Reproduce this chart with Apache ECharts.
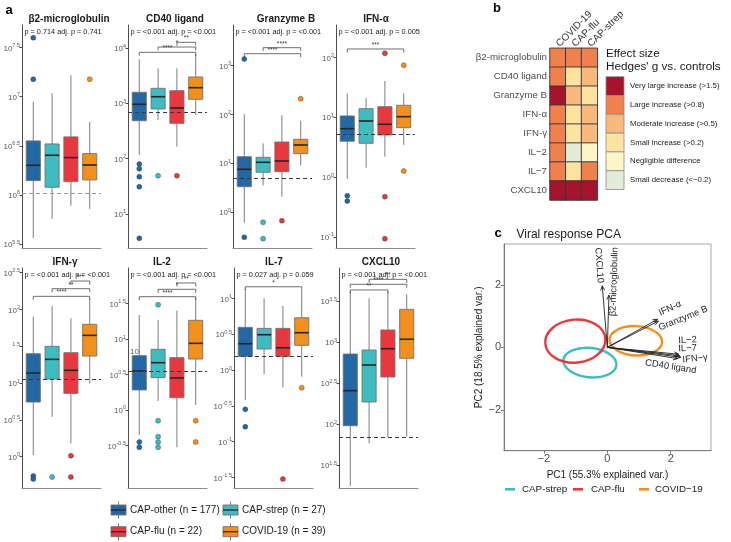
<!DOCTYPE html>
<html>
<head>
<meta charset="utf-8">
<script src="https://cdn.jsdelivr.net/npm/echarts@6.0.0/dist/echarts.min.js"></script>
<style>html,body{margin:0;padding:0;background:#fff;}#chart{width:731px;height:542px;}</style>
</head>
<body>
<div id="chart"></div>
<script>
const FONT = '"Liberation Sans", Arial, Helvetica, sans-serif';

// ---------- Groups ----------
const groups = ['CAP-other', 'CAP-strep', 'CAP-flu', 'COVID-19'];
const groupN = [177, 27, 22, 39];
const groupColors = ['#2467a5', '#3ebdc1', '#e8383e', '#f3901b'];

// ---------- Panel a (values are log10): [lower whisker, Q1, median, Q3, upper whisker] per group ----------
const b2mBoxes = [[5.56, 6.146, 6.302, 6.55, 6.95], [5.756, 6.078, 6.404, 6.519, 7.036], [5.891, 6.135, 6.38, 6.591, 7.22], [5.857, 6.153, 6.305, 6.421, 6.746]];
const b2mOutliers = [[0, 7.60], [0, 7.178], [3, 7.178]];
const b2mControl = 6.023;
const b2mTicks = [5.5, 6, 6.5, 7, 7.5];
const b2mBrackets = [];

const cd40Boxes = [[2.065, 2.685, 2.982, 3.199, 3.796], [2.698, 2.897, 3.119, 3.271, 3.633], [2.215, 2.638, 2.915, 3.228, 3.633], [2.788, 3.072, 3.282, 3.476, 3.892]];
const cd40Outliers = [[0, 1.902], [0, 1.817], [0, 1.673], [0, 1.492], [0, 0.559], [1, 1.691], [2, 1.691]];
const cd40Control = 2.837;
const cd40Ticks = [1, 2, 3, 4];
const cd40Brackets = [[0, 3, 3.922, '****'], [1, 3, 4.018, '*'], [2, 3, 4.103, '**']];

const gzmbBoxes = [[-0.217, 0.52, 0.877, 1.135, 2.004], [0.549, 0.816, 1.02, 1.123, 1.41], [0.316, 0.828, 1.047, 1.436, 1.984], [0.951, 1.197, 1.375, 1.492, 1.873]];
const gzmbOutliers = [[0, 3.137], [0, -0.516], [1, -0.209], [1, -0.545], [2, -0.176], [3, 2.324]];
const gzmbControl = 0.693;
const gzmbTicks = [0, 1, 2, 3];
const gzmbBrackets = [[0, 3, 3.246, '****'], [1, 3, 3.369, '****']];

const ifnaBoxes = [[-0.032, 0.599, 0.809, 1.022, 1.401], [0.157, 0.565, 0.938, 1.144, 1.318], [0.341, 0.704, 0.883, 1.177, 1.607], [0.537, 0.826, 1.01, 1.201, 1.401]];
const ifnaOutliers = [[0, -0.311], [0, -0.40], [2, 2.07], [2, -0.328], [2, -1.03], [3, 1.87], [3, 0.102]];
const ifnaControl = 0.716;
const ifnaTicks = [-1, 0, 1, 2];
const ifnaBrackets = [[0, 3, 2.142, '***']];

const ifngBoxes = [[0.023, 0.743, 1.137, 1.399, 1.902], [0.543, 1.056, 1.323, 1.5, 2.048], [0.182, 0.861, 1.174, 1.413, 1.88], [0.997, 1.368, 1.649, 1.799, 2.152]];
const ifngOutliers = [[0, -0.262], [0, -0.303], [1, -0.276], [2, 0.014], [2, -0.276]];
const ifngControl = 1.052;
const ifngTicks = [0, 0.5, 1, 1.5, 2, 2.5];
const ifngBrackets = [[0, 3, 2.179, '****'], [1, 3, 2.283, '**'], [2, 3, 2.387, '***']];

const il2Boxes = [[-0.352, 0.282, 0.549, 0.765, 1.338], [0.127, 0.455, 0.666, 0.855, 1.268], [-0.525, 0.173, 0.451, 0.737, 1.399], [0.07, 0.718, 0.939, 1.263, 1.582]];
const il2Outliers = [[0, -0.451], [0, -0.525], [1, 1.483], [1, -0.151], [1, -0.376], [1, -0.451], [1, -0.525], [3, -0.151], [3, -0.451]];
const il2Control = 0.549;
const il2Ticks = [-0.5, 0, 0.5, 1, 1.5];
const il2Brackets = [[0, 3, 1.596, '****'], [1, 3, 1.70, '*'], [2, 3, 1.789, '**']];

const il7Boxes = [[-0.419, 0.191, 0.367, 0.596, 1.135], [-0.06, 0.293, 0.493, 0.582, 1.001], [-0.242, 0.191, 0.311, 0.582, 0.894], [-0.094, 0.345, 0.521, 0.73, 1.113]];
const il7Outliers = [[0, -0.549], [0, -0.792], [2, -1.522], [3, -0.247]];
const il7Control = 0.191;
const il7Ticks = [-1.5, -1, -0.5, 0, 0.5, 1];
const il7Brackets = [[0, 3, 1.163, '*']];

const cxcl10Boxes = [[1.25, 1.983, 2.41, 2.857, 3.62], [1.768, 2.272, 2.723, 2.906, 3.537], [1.841, 2.577, 2.922, 3.15, 3.617], [1.849, 2.805, 3.037, 3.402, 3.585]];
const cxcl10Outliers = [];
const cxcl10Control = 1.841;
const cxcl10Ticks = [1.5, 2, 2.5, 3, 3.5];
const cxcl10Brackets = [[0, 2, 3.638, '**'], [0, 3, 3.707, '****'], [1, 3, 3.768, '**']];

// ---------- Panel b: effect size levels (0 small decrease ... 5 very large increase) ----------
const hmRows = ['β2-microglobulin', 'CD40 ligand', 'Granzyme B', 'IFN-α', 'IFN-γ', 'IL−2', 'IL−7', 'CXCL10'];
const hmCols = ['COVID-19', 'CAP-flu', 'CAP-strep'];
const hmCovid = [4, 4, 5, 4, 4, 4, 4, 5];
const hmFlu = [4, 2, 3, 2, 2, 0, 2, 5];
const hmStrep = [4, 3, 2, 3, 3, 1, 4, 5];
const effectLabels = ['Small decrease (<−0.2)', 'Negligible difference', 'Small increase (>0.2)', 'Moderate increase (>0.5)', 'Large increase (>0.8)', 'Very large increase (>1.5)'];
const effectColors = ['#e2ecd8', '#fbf5c8', '#fde3a0', '#f9b97a', '#f0814f', '#a5142d'];

// ---------- Panel c: PCA ----------
const pcaVars = ['CXCL10', 'β2-microglobulin', 'IFN-α', 'Granzyme B', 'IL−2', 'IL−7', 'IFN−γ', 'CD40 ligand'];
const pcaLoadX = [-0.16, 0.05, 1.58, 1.61, 2.25, 2.28, 2.32, 2.22];
const pcaLoadY = [1.97, 1.67, 0.90, 0.84, -0.22, -0.27, -0.32, -0.36];
const pcaLabelX = [-0.26, 0.21, 1.98, 2.39, 2.53, 2.53, 2.77, 2.0];
const pcaLabelY = [2.63, 2.10, 1.25, 0.93, 0.23, -0.03, -0.36, -0.62];
const pcaLabelRot = [-86, 88, 25, 22, 3, 3, 6, -9];
const pcaGroups = ['CAP-strep', 'CAP-flu', 'COVID−19'];
const pcaColors = ['#3ebdc1', '#e8383e', '#f3901b'];
const ellCx = [-0.55, -1.01, 0.90];
const ellCy = [-0.49, 0.20, 0.21];
const ellRx = [0.84, 0.95, 0.83];
const ellRy = [0.47, 0.69, 0.47];
const ellTilt = [-6, 5, -3];

// ---------- layout ----------
const panels = [
  {title: 'β2-microglobulin', p: 'p = 0.714 adj. p = 0.741', boxes: b2mBoxes, out: b2mOutliers, ctrl: b2mControl, ticks: b2mTicks, br: b2mBrackets, range: [5.46, 7.73], left: 22, top: 25, h: 223, tx: 69, ctrlColor: '#9a9a9a'},
  {title: 'CD40 ligand', p: 'p = <0.001 adj. p = <0.001', boxes: cd40Boxes, out: cd40Outliers, ctrl: cd40Control, ticks: cd40Ticks, br: cd40Brackets, range: [0.383, 4.416], left: 128, top: 25, h: 223, tx: 175},
  {title: 'Granzyme B', p: 'p = <0.001 adj. p = <0.001', boxes: gzmbBoxes, out: gzmbOutliers, ctrl: gzmbControl, ticks: gzmbTicks, br: gzmbBrackets, range: [-0.736, 3.834], left: 233, top: 25, h: 223, tx: 286},
  {title: 'IFN-α', p: 'p = <0.001 adj. p = 0.005', boxes: ifnaBoxes, out: ifnaOutliers, ctrl: ifnaControl, ticks: ifnaTicks, br: ifnaBrackets, range: [-1.186, 2.543], left: 336, top: 25, h: 223, tx: 376},
  {title: 'IFN-γ', p: 'p = <0.001 adj. p = <0.001', boxes: ifngBoxes, out: ifngOutliers, ctrl: ifngControl, ticks: ifngTicks, br: ifngBrackets, range: [-0.425, 2.564], left: 22, top: 268, h: 220, tx: 65, supOnly: [1.5]},
  {title: 'IL-2', p: 'p = <0.001 adj. p = <0.001', boxes: il2Boxes, out: il2Outliers, ctrl: il2Control, ticks: il2Ticks, br: il2Brackets, range: [-1.099, 2.0], left: 128, top: 268, h: 220, tx: 162},
  {title: 'IL-7', p: 'p = 0.027 adj. p = 0.059', boxes: il7Boxes, out: il7Outliers, ctrl: il7Control, ticks: il7Ticks, br: il7Brackets, range: [-1.648, 1.425], left: 234, top: 268, h: 220, tx: 274},
  {title: 'CXCL10', p: 'p = <0.001 adj. p = <0.001', boxes: cxcl10Boxes, out: cxcl10Outliers, ctrl: cxcl10Control, ticks: cxcl10Ticks, br: cxcl10Brackets, range: [1.223, 3.906], left: 339, top: 268, h: 220, tx: 381}
];

function expStr(v) { return String(Math.round(v * 10) / 10); }

function boxRender(params, api) {
  const x = api.value(0);
  const p = [1, 2, 3, 4, 5].map(k => api.coord([x, api.value(k)]));
  const g = api.value(6);
  const w = api.size([0.75, 0])[0];
  const cx = p[0][0];
  return {type: 'group', children: [
    {type: 'line', shape: {x1: cx, y1: p[0][1], x2: cx, y2: p[1][1]}, style: {stroke: '#6f6f6f', lineWidth: 0.9}},
    {type: 'line', shape: {x1: cx, y1: p[3][1], x2: cx, y2: p[4][1]}, style: {stroke: '#6f6f6f', lineWidth: 0.9}},
    {type: 'rect', shape: {x: cx - w / 2, y: p[3][1], width: w, height: p[1][1] - p[3][1]}, style: {fill: groupColors[g], stroke: '#707070', lineWidth: 0.9}},
    {type: 'line', shape: {x1: cx - w / 2, y1: p[2][1], x2: cx + w / 2, y2: p[2][1]}, style: {stroke: '#262626', lineWidth: 1.6}}
  ]};
}

function bracketRender(list) {
  return function (params, api) {
    const yv = api.value(2);
    const a = api.coord([api.value(0) + 1, yv]);
    const b = api.coord([api.value(1) + 1, yv]);
    return {type: 'group', children: [
      {type: 'polyline', shape: {points: [[a[0], a[1] + 3.5], [a[0], a[1]], [b[0], b[1]], [b[0], b[1] + 3.5]]}, style: {stroke: '#4a4a4a', lineWidth: 0.8, fill: null}},
      {type: 'text', x: (a[0] + b[0]) / 2, y: a[1] - 0.3, style: {text: list[params.dataIndex][3], fontSize: 6.5, fontFamily: FONT, fill: '#333', align: 'center', verticalAlign: 'bottom'}}
    ]};
  };
}

const grids = [], xAxes = [], yAxes = [], series = [], graphics = [];
const richTick = {
  b: {fontSize: 8, fontFamily: FONT, color: '#5a5a5a', lineHeight: 10, verticalAlign: 'bottom'},
  s: {fontSize: 5.5, fontFamily: FONT, color: '#5a5a5a', lineHeight: 10, verticalAlign: 'top'}
};

panels.forEach((pn, i) => {
  grids.push({left: pn.left, top: pn.top, width: 79, height: pn.h, outerBoundsMode: 'none'});
  xAxes.push({type: 'value', gridIndex: i, min: 0.4, max: 4.6,
    axisLine: {show: true, onZero: false, lineStyle: {color: '#8c8c8c', width: 1}},
    axisTick: {show: false}, axisLabel: {show: false}, splitLine: {show: false}});
  yAxes.push({type: 'value', gridIndex: i, min: pn.range[0], max: pn.range[1],
    axisLine: {show: true, onZero: false, lineStyle: {color: '#4d4d4d', width: 1}},
    axisTick: {show: true, length: 2.5, customValues: pn.ticks, lineStyle: {color: '#4d4d4d'}},
    axisLabel: {customValues: pn.ticks, margin: 2, rich: richTick,
      formatter: v => (pn.supOnly && pn.supOnly.indexOf(v) >= 0) ? '{s|' + expStr(v) + '}' : '{b|10}{s|' + expStr(v) + '}'},
    splitLine: {show: false}});
  series.push({type: 'custom', xAxisIndex: i, yAxisIndex: i, renderItem: boxRender, z: 2,
    encode: {x: 0, y: [1, 2, 3, 4, 5]},
    data: pn.boxes.map((b, g) => [g + 1, b[0], b[1], b[2], b[3], b[4], g])});
  series.push({type: 'scatter', xAxisIndex: i, yAxisIndex: i, z: 3, symbolSize: 5,
    data: pn.out.map(o => [o[0] + 1, o[1], o[0]]),
    itemStyle: {color: p => groupColors[p.data[2]], borderColor: '#333', borderWidth: 0.4, opacity: 1},
    markLine: {silent: true, symbol: 'none', z: 4, label: {show: false},
      lineStyle: {type: [4, 3], color: pn.ctrlColor || '#3a3a3a', width: 1},
      data: [{yAxis: pn.ctrl}]}});
  if (pn.br.length) {
    series.push({type: 'custom', xAxisIndex: i, yAxisIndex: i, z: 5, renderItem: bracketRender(pn.br),
      encode: {x: [0, 1], y: 2}, data: pn.br.map(b => [b[0], b[1], b[2]])});
  }
  graphics.push({type: 'text', x: pn.tx, y: pn.top - 6, style: {text: pn.title, fontSize: 10, fontWeight: 'bold', fontFamily: FONT, fill: '#1a1a1a', align: 'center', verticalAlign: 'middle'}});
  graphics.push({type: 'text', x: pn.left + 2.5, y: pn.top + 7, style: {text: pn.p, fontSize: 7.3, fontFamily: FONT, fill: '#1a1a1a', align: 'left', verticalAlign: 'middle'}});
});

// stray label in IL-2 panel
graphics.push({type: 'text', x: 130, y: 352, style: {text: '10', fontSize: 8, fontFamily: FONT, fill: '#5a5a5a', align: 'left', verticalAlign: 'middle'}});

// ---------- heatmap (panel b) ----------
const hmIdx = grids.length;
grids.push({left: 550, top: 48.3, width: 47.3, height: 151.7, outerBoundsMode: 'none'});
xAxes.push({type: 'category', gridIndex: hmIdx, position: 'top', data: hmCols,
  axisLine: {show: false}, axisTick: {show: false}, splitLine: {show: false},
  axisLabel: {rotate: -45, interval: 0, hideOverlap: false, align: 'left', verticalAlign: 'middle', margin: 3, fontSize: 10, fontFamily: FONT, color: '#333'}});
yAxes.push({type: 'category', gridIndex: hmIdx, data: hmRows, inverse: true,
  axisLine: {show: false}, axisTick: {show: false}, splitLine: {show: false},
  axisLabel: {margin: 3, interval: 0, fontSize: 9.7, fontFamily: FONT, color: '#4d4d4d'}});
const hmData = [];
[hmCovid, hmFlu, hmStrep].forEach((col, c) => col.forEach((v, r) => hmData.push([c, r, v])));
const hmSeriesIndex = series.length;
series.push({type: 'heatmap', xAxisIndex: hmIdx, yAxisIndex: hmIdx, data: hmData,
  itemStyle: {borderColor: '#333', borderWidth: 0.9}, emphasis: {disabled: true}});

// effect size legend
graphics.push({type: 'text', x: 606, y: 53.5, style: {text: 'Effect size', fontSize: 11.7, fontFamily: FONT, fill: '#1a1a1a', align: 'left', verticalAlign: 'middle'}});
graphics.push({type: 'text', x: 606, y: 66.8, style: {text: "Hedges' g vs. controls", fontSize: 11.7, fontFamily: FONT, fill: '#1a1a1a', align: 'left', verticalAlign: 'middle'}});
for (let k = 0; k < effectLabels.length; k++) {
  const lvl = effectLabels.length - 1 - k;
  const y0 = 76.7 + k * 18.8;
  graphics.push({type: 'rect', shape: {x: 606, y: y0, width: 18, height: 18.8}, style: {fill: effectColors[lvl], stroke: '#8a8a8a', lineWidth: 0.8}});
  graphics.push({type: 'text', x: 630, y: y0 + 9.4, style: {text: effectLabels[lvl], fontSize: 7.8, fontFamily: FONT, fill: '#1a1a1a', align: 'left', verticalAlign: 'middle'}});
}

// ---------- PCA (panel c) ----------
const pcIdx = grids.length;
grids.push({left: 504, top: 244, width: 207, height: 206.7, show: true, borderColor: '#a6a6a6', borderWidth: 1, backgroundColor: 'transparent', outerBoundsMode: 'none'});
xAxes.push({type: 'value', gridIndex: pcIdx, min: -3.26, max: 3.27,
  axisLine: {show: true, onZero: false, lineStyle: {color: '#7a7a7a'}},
  axisTick: {show: true, length: 3, customValues: [-2, 0, 2], lineStyle: {color: '#7a7a7a'}},
  axisLabel: {customValues: [-2, 0, 2], margin: 3, fontSize: 11, fontFamily: FONT, color: '#4d4d4d', formatter: v => String(v).replace('-', '−')},
  splitLine: {show: false},
  name: 'PC1 (55.3% explained var.)', nameLocation: 'middle', nameGap: 20,
  nameTextStyle: {fontSize: 10, fontFamily: FONT, color: '#1a1a1a'}});
yAxes.push({type: 'value', gridIndex: pcIdx, min: -3.31, max: 3.31,
  axisLine: {show: true, onZero: false, lineStyle: {color: '#7a7a7a'}},
  axisTick: {show: true, length: 3, customValues: [-2, 0, 2], lineStyle: {color: '#7a7a7a'}},
  axisLabel: {customValues: [-2, 0, 2], margin: 3, fontSize: 11, fontFamily: FONT, color: '#4d4d4d', formatter: v => String(v).replace('-', '−')},
  splitLine: {show: false},
  name: 'PC2 (18.5% explained var.)', nameLocation: 'middle', nameGap: 19, nameRotate: 90,
  nameTextStyle: {fontSize: 10, fontFamily: FONT, color: '#1a1a1a'}});

series.push({type: 'custom', xAxisIndex: pcIdx, yAxisIndex: pcIdx, z: 2,
  encode: {x: 0, y: 1},
  data: ellCx.map((cx, k) => [cx, ellCy[k], ellRx[k], ellRy[k], ellTilt[k], k]),
  renderItem: (params, api) => {
    const c = api.coord([api.value(0), api.value(1)]);
    const rx = api.size([api.value(2), 0])[0];
    const ry = api.size([0, api.value(3)])[1];
    return {type: 'ellipse', x: c[0], y: c[1], rotation: api.value(4) * Math.PI / 180,
      shape: {cx: 0, cy: 0, rx: rx, ry: ry},
      style: {fill: 'none', stroke: pcaColors[api.value(5)], lineWidth: 2.4}};
  }});

series.push({type: 'custom', xAxisIndex: pcIdx, yAxisIndex: pcIdx, z: 3,
  encode: {x: 0, y: 1},
  data: pcaLoadX.map((x, k) => [x, pcaLoadY[k], pcaLabelX[k], pcaLabelY[k], pcaLabelRot[k]]),
  renderItem: (params, api) => {
    const o = api.coord([0, 0]);
    const t = api.coord([api.value(0), api.value(1)]);
    const ang = Math.atan2(t[1] - o[1], t[0] - o[0]);
    const L = 5, A = 0.42;
    const h1 = [t[0] - L * Math.cos(ang - A), t[1] - L * Math.sin(ang - A)];
    const h2 = [t[0] - L * Math.cos(ang + A), t[1] - L * Math.sin(ang + A)];
    const lp = api.coord([api.value(2), api.value(3)]);
    return {type: 'group', children: [
      {type: 'line', shape: {x1: o[0], y1: o[1], x2: t[0], y2: t[1]}, style: {stroke: '#1f1f1f', lineWidth: 0.9}},
      {type: 'polyline', shape: {points: [h1, t, h2]}, style: {stroke: '#1f1f1f', lineWidth: 0.9, fill: null}},
      {type: 'text', x: lp[0], y: lp[1], rotation: api.value(4) * Math.PI / 180,
        style: {text: pcaVars[params.dataIndex], fontSize: 9.4, fontFamily: FONT, fill: '#1f1f1f', align: 'center', verticalAlign: 'middle'}}
    ]};
  }});

graphics.push({type: 'text', x: 516.5, y: 235, style: {text: 'Viral response PCA', fontSize: 12, fontFamily: FONT, fill: '#1a1a1a', align: 'left', verticalAlign: 'middle'}});

// PCA legend
const pcaKeyX = [505, 573, 639];
const pcaTextX = [522, 591, 655];
pcaGroups.forEach((g, k) => {
  graphics.push({type: 'line', shape: {x1: pcaKeyX[k], y1: 489.3, x2: pcaKeyX[k] + 10, y2: 489.3}, style: {stroke: pcaColors[k], lineWidth: 2.6}});
  graphics.push({type: 'text', x: pcaTextX[k], y: 489.3, style: {text: g, fontSize: 9.8, fontFamily: FONT, fill: '#1a1a1a', align: 'left', verticalAlign: 'middle'}});
});

// boxplot legend
const legOrder = [0, 1, 2, 3];
legOrder.forEach((g, k) => {
  const col = k % 2, row = Math.floor(k / 2);
  const kx = col === 0 ? 111 : 223;
  const ky = row === 0 ? 510 : 531.7;
  graphics.push({type: 'line', shape: {x1: kx + 7.5, y1: ky - 8.5, x2: kx + 7.5, y2: ky + 8.5}, style: {stroke: '#6f6f6f', lineWidth: 0.9}});
  graphics.push({type: 'rect', shape: {x: kx, y: ky - 5, width: 15, height: 10}, style: {fill: groupColors[g], stroke: '#707070', lineWidth: 0.9}});
  graphics.push({type: 'line', shape: {x1: kx, y1: ky, x2: kx + 15, y2: ky}, style: {stroke: '#262626', lineWidth: 1.3}});
  graphics.push({type: 'text', x: kx + 19, y: ky, style: {text: groups[g] + ' (n = ' + groupN[g] + ')', fontSize: 10, fontFamily: FONT, fill: '#1a1a1a', align: 'left', verticalAlign: 'middle'}});
});

// panel letters
[['a', 9, 10], ['b', 497, 8], ['c', 498, 233]].forEach(t => {
  graphics.push({type: 'text', x: t[1], y: t[2], style: {text: t[0], fontSize: 13, fontWeight: 'bold', fontFamily: FONT, fill: '#000', align: 'center', verticalAlign: 'middle'}});
});

const option = {
  backgroundColor: '#fff',
  animation: false,
  textStyle: {fontFamily: FONT},
  grid: grids, xAxis: xAxes, yAxis: yAxes, series: series,
  visualMap: {type: 'piecewise', show: false, dimension: 2, seriesIndex: hmSeriesIndex,
    pieces: effectColors.map((c, k) => ({value: k, color: c}))},
  graphic: graphics
};
const chart = echarts.init(document.getElementById('chart'));
chart.setOption(option);
</script>
</body>
</html>
